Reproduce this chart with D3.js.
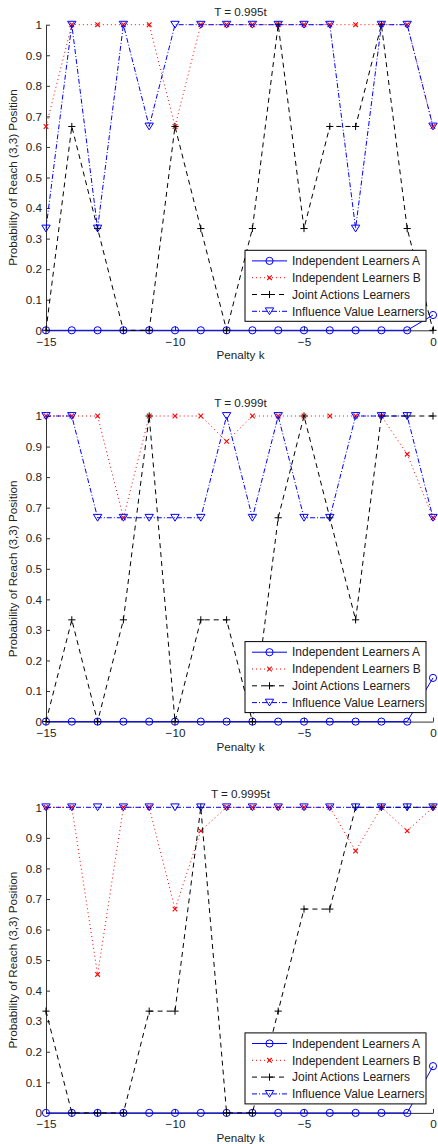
<!DOCTYPE html>
<html lang="en">
<head>
    <meta charset="UTF-8">
    <title>Probability of Reach (3,3) Position</title>
    <script src="https://d3js.org/d3.v7.min.js"></script>
    <style>
        body { margin: 0; background: white; }
        text { font-family: "Liberation Sans", Arial, sans-serif; fill: #222; }
        .axis path, .axis line { stroke: #333; }
    </style>
</head>
<body>
    <svg width="438" height="1144"></svg>
    <script>
        const penalty = [-15, -14, -13, -12, -11, -10, -9, -8, -7, -6, -5, -4, -3, -2, -1, 0];
        const yTicks = [0, 0.1, 0.2, 0.3, 0.4, 0.5, 0.6, 0.7, 0.8, 0.9, 1];
        const xTicks = [-15, -10, -5, 0];
        const titles = ["T = 0.995t", "T = 0.999t", "T = 0.9995t"];
        const seriesNames = ["Independent Learners A", "Independent Learners B", "Joint Actions Learners", "Influence Value Learners"];

        // T = 0.995t
        const ilA1 = [0, 0, 0, 0, 0, 0, 0, 0, 0, 0, 0, 0, 0, 0, 0, 0.05];
        const ilB1 = [0.667, 1, 1, 1, 1, 0.667, 1, 1, 1, 1, 1, 1, 1, 1, 1, 0.667];
        const jal1 = [0, 0.667, 0.333, 0, 0, 0.667, 0.333, 0, 0.333, 1, 0.333, 0.667, 0.667, 1, 0.333, 0];
        const ivl1 = [0.333, 1, 0.333, 1, 0.667, 1, 1, 1, 1, 1, 1, 1, 0.333, 1, 1, 0.667];

        // T = 0.999t
        const ilA2 = [0, 0, 0, 0, 0, 0, 0, 0, 0, 0, 0, 0, 0, 0, 0, 0.143];
        const ilB2 = [1, 1, 1, 0.667, 1, 1, 1, 0.917, 1, 1, 1, 1, 1, 1, 0.875, 0.667];
        const jal2 = [0, 0.333, 0, 0.333, 1, 0, 0.333, 0.333, 0, 0.667, 1, 0.667, 0.333, 1, 1, 1];
        const ivl2 = [1, 1, 0.667, 0.667, 0.667, 0.667, 0.667, 1, 0.667, 1, 0.667, 0.667, 1, 1, 1, 0.667];

        // T = 0.9995t
        const ilA3 = [0, 0, 0, 0, 0, 0, 0, 0, 0, 0, 0, 0, 0, 0, 0, 0.153];
        const ilB3 = [1, 1, 0.453, 1, 1, 0.667, 0.923, 1, 1, 1, 1, 1, 0.857, 1, 0.923, 1];
        const jal3 = [0.333, 0, 0, 0, 0.333, 0.333, 1, 0, 0, 0.333, 0.667, 0.667, 1, 1, 1, 1];
        const ivl3 = [1, 1, 1, 1, 1, 1, 1, 1, 1, 1, 1, 1, 1, 1, 1, 1];

        const panels = [
            [ilA1, ilB1, jal1, ivl1],
            [ilA2, ilB2, jal2, ivl2],
            [ilA3, ilB3, jal3, ivl3]
        ];

        const styles = [
            { color: "#0000ff", dash: null, marker: "circle" },
            { color: "#ff0000", dash: "1,3", marker: "x" },
            { color: "#000000", dash: "5,4", marker: "plus" },
            { color: "#0000ff", dash: "5,2,1,2", marker: "triangle" }
        ];

        const svg = d3.select("svg");
        const left = 46, right = 433, plotH = 305.6;
        const tops = [24.7, 416, 807.3];
        const fs = "11.7px";

        const x = d3.scaleLinear().domain([-15, 0]).range([left, right]);

        function drawMarker(g, type, cx, cy, color) {
            if (type === "circle") {
                g.append("circle").attr("cx", cx).attr("cy", cy).attr("r", 3.6)
                    .attr("fill", "none").attr("stroke", color).attr("stroke-width", 1);
            } else if (type === "x") {
                const s = 2.3;
                g.append("path")
                    .attr("d", `M${cx - s},${cy - s}L${cx + s},${cy + s}M${cx - s},${cy + s}L${cx + s},${cy - s}`)
                    .attr("stroke", color).attr("stroke-width", 1.1);
            } else if (type === "plus") {
                const s = 3.6;
                g.append("path")
                    .attr("d", `M${cx - s},${cy}L${cx + s},${cy}M${cx},${cy - s}L${cx},${cy + s}`)
                    .attr("stroke", color).attr("stroke-width", 1);
            } else {
                const w = 4.2, h = 3.4;
                g.append("path")
                    .attr("d", `M${cx - w},${cy - h}L${cx + w},${cy - h}L${cx},${cy + h}Z`)
                    .attr("fill", "none").attr("stroke", color).attr("stroke-width", 1);
            }
        }

        panels.forEach((series, p) => {
            const top = tops[p], bottom = top + plotH;
            const y = d3.scaleLinear().domain([0, 1]).range([bottom, top]);
            const g = svg.append("g");

            // axes, ticks pointing inward like matlab
            g.append("g").attr("class", "axis")
                .attr("transform", `translate(${left},0)`)
                .call(d3.axisLeft(y).tickValues(yTicks).tickFormat(d3.format("~g"))
                    .tickSizeInner(-4).tickSizeOuter(0).tickPadding(4));

            g.append("g").attr("class", "axis")
                .attr("transform", `translate(0,${bottom})`)
                .call(d3.axisBottom(x).tickValues(xTicks).tickFormat(d3.format("d"))
                    .tickSizeInner(-4).tickSizeOuter(0).tickPadding(7));

            g.selectAll(".tick text").style("font-size", fs);

            g.append("text")
                .attr("x", (left + right) / 2 + 1)
                .attr("y", top - 9)
                .attr("text-anchor", "middle")
                .style("font-size", fs)
                .text(titles[p]);

            g.append("text")
                .attr("x", (left + right) / 2 + 1)
                .attr("y", bottom + 29)
                .attr("text-anchor", "middle")
                .style("font-size", fs)
                .text("Penalty k");

            g.append("text")
                .attr("transform", `translate(17,${(top + bottom) / 2}) rotate(-90)`)
                .attr("text-anchor", "middle")
                .style("font-size", fs)
                .text("Probability of Reach (3,3) Position");

            // series
            const line = d3.line().x((d, i) => x(penalty[i])).y(d => y(d));
            series.forEach((vals, s) => {
                const st = styles[s];
                g.append("path")
                    .datum(vals)
                    .attr("d", line)
                    .attr("fill", "none")
                    .attr("stroke", st.color)
                    .attr("stroke-width", 1)
                    .attr("stroke-dasharray", st.dash);
                const mg = g.append("g");
                vals.forEach((v, i) => drawMarker(mg, st.marker, x(penalty[i]), y(v), st.color));
            });

            // legend
            const lx0 = 245, lx1 = 426, ly0 = bottom - 80, ly1 = bottom - 9;
            const lg = g.append("g");
            lg.append("rect")
                .attr("x", lx0).attr("y", ly0)
                .attr("width", lx1 - lx0).attr("height", ly1 - ly0)
                .attr("fill", "white").attr("stroke", "#000").attr("stroke-width", 1);
            seriesNames.forEach((name, s) => {
                const st = styles[s];
                const ry = ly0 + 10.6 + s * 16.8;
                lg.append("line")
                    .attr("x1", 252).attr("x2", 287).attr("y1", ry).attr("y2", ry)
                    .attr("stroke", st.color).attr("stroke-width", 1)
                    .attr("stroke-dasharray", st.dash);
                drawMarker(lg, st.marker, 269.5, ry, st.color);
                lg.append("text")
                    .attr("x", 292).attr("y", ry)
                    .attr("dy", "0.35em")
                    .style("font-size", "12px")
                    .text(name);
            });
        });
    </script>
</body>
</html>
